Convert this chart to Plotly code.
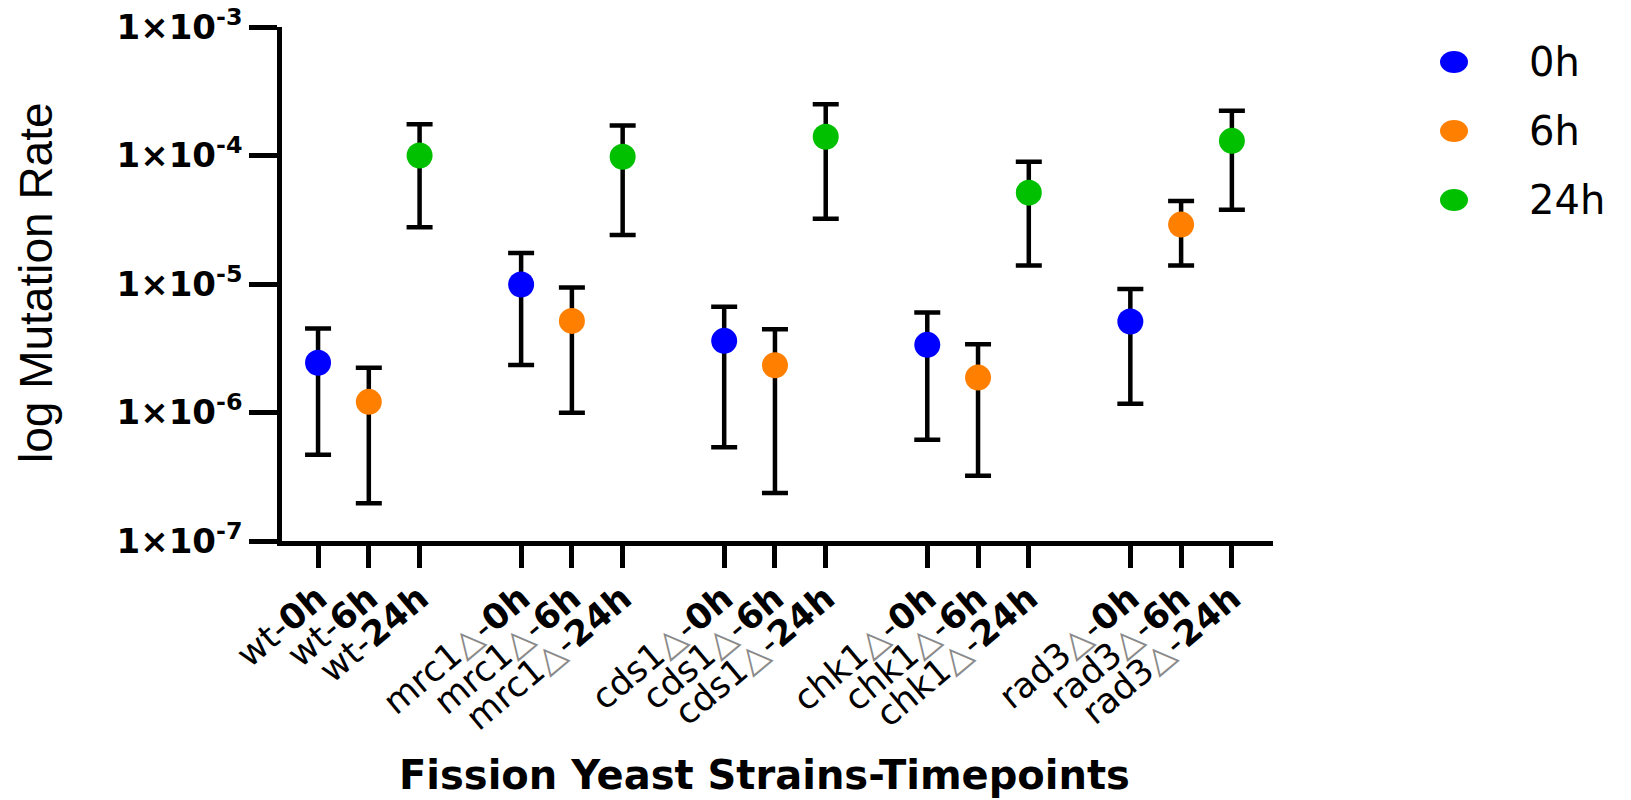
import plotly.graph_objects as go

# Strains and sampling timepoints
strains = ["wt", "mrc1", "cds1", "chk1", "rad3"]
is_deletion = [False, True, True, True, True]
timepoints = ["0h", "6h", "24h"]
series_colors = ["#0000FF", "#FF8000", "#00C000"]

# Mutation rate estimates with lower / upper confidence limits, per timepoint
rate_0h = [2.44e-6, 9.9e-6, 3.61e-6, 3.36e-6, 5.11e-6]
upper_0h = [4.51e-6, 1.74e-5, 6.65e-6, 6.01e-6, 9.14e-6]
lower_0h = [4.70e-7, 2.34e-6, 5.36e-7, 6.15e-7, 1.17e-6]

rate_6h = [1.21e-6, 5.16e-6, 2.33e-6, 1.87e-6, 2.90e-5]
upper_6h = [2.23e-6, 9.4e-6, 4.45e-6, 3.40e-6, 4.42e-5]
lower_6h = [1.97e-7, 9.96e-7, 2.36e-7, 3.22e-7, 1.39e-5]

rate_24h = [1.00e-4, 9.77e-5, 1.40e-4, 5.14e-5, 1.30e-4]
upper_24h = [1.75e-4, 1.71e-4, 2.50e-4, 8.93e-5, 2.23e-4]
lower_24h = [2.77e-5, 2.41e-5, 3.22e-5, 1.39e-5, 3.79e-5]

# Y-axis decades
y_ticks = [1e-7, 1e-6, 1e-5, 1e-4, 1e-3]
y_ticktext = ["1×10<sup>-7</sup>", "1×10<sup>-6</sup>", "1×10<sup>-5</sup>",
              "1×10<sup>-4</sup>", "1×10<sup>-3</sup>"]

rates = [rate_0h, rate_6h, rate_24h]
uppers = [upper_0h, upper_6h, upper_24h]
lowers = [lower_0h, lower_6h, lower_24h]

# figure geometry (pixels)
W, H = 1631, 800
ML, MR, MT, MB = 282, 358, 27, 259
PW, PH = W - ML - MR, H - MT - MB


def px_x(px):
    return (px - ML) / PW


def px_y(py):
    return (H - MB - py) / PH


# each strain takes three slots plus one empty slot as a gap
def slot(i, j):
    return 4 * i + j


def strain_label(i, tp):
    name = strains[i]
    if is_deletion[i]:
        name += "<span style='color:#8a8a8a'>△</span>"
    return name + "-<b>" + tp + "</b>"


fig = go.Figure()

tickvals, ticktext = [], []
for j, tp in enumerate(timepoints):
    xs = [slot(i, j) for i in range(len(strains))]
    err_plus = [u - r for u, r in zip(uppers[j], rates[j])]
    err_minus = [r - l for r, l in zip(rates[j], lowers[j])]
    fig.add_trace(go.Scatter(
        x=xs, y=rates[j], mode="markers", name=tp, showlegend=False,
        marker=dict(color=series_colors[j], size=26, line=dict(width=0)),
        error_y=dict(type="data", symmetric=False, array=err_plus,
                     arrayminus=err_minus, color="black", thickness=4.5,
                     width=13),
    ))
    for i in range(len(strains)):
        tickvals.append(slot(i, j))
        ticktext.append(strain_label(i, tp))

order = sorted(range(len(tickvals)), key=lambda k: tickvals[k])
tickvals = [tickvals[k] for k in order]
ticktext = [ticktext[k] for k in order]

fig.update_layout(
    width=W, height=H,
    margin=dict(l=ML, r=MR, t=MT, b=MB, autoexpand=False),
    paper_bgcolor="white", plot_bgcolor="white",
    showlegend=False,
    xaxis=dict(
        range=[-0.71, 18.81], tickmode="array", tickvals=tickvals,
        ticktext=ticktext, tickangle=-40, ticklabelstandoff=-4,
        ticks="outside", ticklen=22, tickwidth=4.5, tickcolor="black",
        showline=True, linewidth=4.5, linecolor="black",
        showgrid=False, zeroline=False,
        tickfont=dict(family="DejaVu Sans", size=35, color="black"),
    ),
    yaxis=dict(
        type="log", range=[-7, -3], tickmode="array", tickvals=y_ticks,
        ticktext=y_ticktext,
        ticks="outside", ticklen=28, tickwidth=4.5, tickcolor="black",
        showline=True, linewidth=4.5, linecolor="black",
        showgrid=False, zeroline=False,
        tickfont=dict(family="DejaVu Sans", size=34, color="black",
                      weight="bold"),
    ),
)

annotations = [
    dict(text="log Mutation Rate", xref="paper", yref="paper",
         x=px_x(36), y=px_y(283), textangle=-90, showarrow=False,
         xanchor="center", yanchor="middle",
         font=dict(family="Liberation Sans", size=46, color="black")),
    dict(text="<b>Fission Yeast Strains-Timepoints</b>", xref="paper",
         yref="paper", x=px_x(764), y=px_y(775), showarrow=False,
         xanchor="center", yanchor="middle",
         font=dict(family="DejaVu Sans", size=40, color="black")),
]

# legend: colored ellipse keys with series names
shapes = []
legend_rows = [62, 131, 200]
for tp, color, ry in zip(timepoints, series_colors, legend_rows):
    shapes.append(dict(type="circle", xref="paper", yref="paper",
                       xsizemode="pixel", ysizemode="pixel",
                       xanchor=px_x(1454), yanchor=px_y(ry),
                       x0=-14, x1=14, y0=-11, y1=11,
                       fillcolor=color, line=dict(width=0)))
    annotations.append(dict(text=tp, xref="paper", yref="paper",
                            x=px_x(1527), y=px_y(ry), showarrow=False,
                            xanchor="left", yanchor="middle",
                            font=dict(family="DejaVu Sans", size=40,
                                      color="black")))

fig.update_layout(annotations=annotations, shapes=shapes)

fig.write_html("out.html")
